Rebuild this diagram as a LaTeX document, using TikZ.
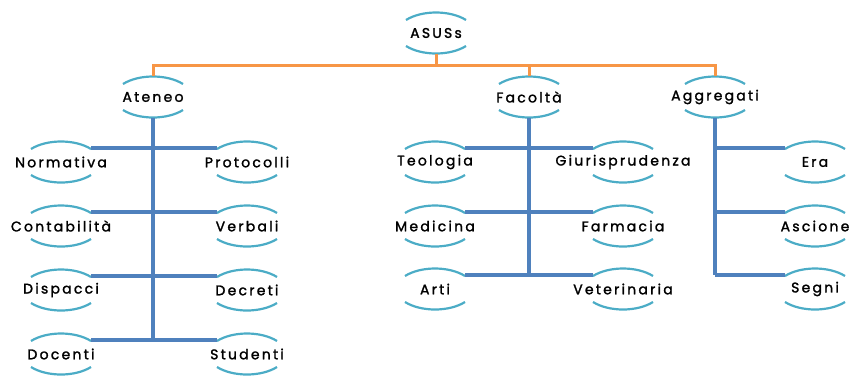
\documentclass[tikz,border=0pt]{standalone}
\usepackage{fontspec}
\setmainfont{Poppins}[FakeBold=1.6,LetterSpace=16]
\usetikzlibrary{calc}
\definecolor{arcc}{HTML}{4BACC6}
\definecolor{lineb}{HTML}{4F81BD}
\definecolor{lineo}{HTML}{F79646}
\tikzset{
  box/.style={minimum width=60pt, minimum height=28pt, inner sep=0pt, outer sep=0pt,
    font=\fontsize{14}{16}\selectfont},
  arcs/.style={draw=arcc, line width=2.2pt},
  bl/.style={draw=lineb, line width=3.6pt},
  ol/.style={draw=lineo, line width=3pt},
}
\newcommand{\tx}[1]{\makebox[0pt]{#1}}
\begin{document}
\begin{tikzpicture}[x=1pt,y=-1pt]
\useasboundingbox (0,0) rectangle (853,376);
\coordinate (bar) at (436,65);
% nodes
\node[box] (asuss) at (436,33) {\tx{ASUSs}};
\node[box] (ateneo) at (153,97) {\tx{Ateneo}};
\node[box] (facolta) at (529,97) {\tx{Facoltà}};
\node[box] (aggregati) at (715,97) {\tx{Aggregati}};
\node[box] (normativa) at (61,162) {\tx{Normativa}};
\node[box] (contabilita) at (61,226) {\tx{Contabilità}};
\node[box] (dispacci) at (61,290) {\tx{Dispacci}};
\node[box] (docenti) at (61,354) {\tx{Docenti}};
\node[box] (protocolli) at (247,162) {\tx{Protocolli}};
\node[box] (verbali) at (247,226) {\tx{Verbali}};
\node[box] (decreti) at (247,290) {\tx{Decreti}};
\node[box] (studenti) at (247,354) {\tx{Studenti}};
\node[box] (teologia) at (435,162) {\tx{Teologia}};
\node[box] (medicina) at (435,226) {\tx{Medicina}};
\node[box] (arti) at (435,289) {\tx{Arti}};
\node[box] (giuris) at (623,162) {\tx{Giurisprudenza}};
\node[box] (farmacia) at (623,226) {\tx{Farmacia}};
\node[box] (veterinaria) at (623,289) {\tx{Veterinaria}};
\node[box] (era) at (815,162) {\tx{Era}};
\node[box] (ascione) at (815,226) {\tx{Ascione}};
\node[box] (segni) at (815,289) {\tx{Segni}};
% arcs
\foreach \n in {asuss,ateneo,facolta,aggregati,normativa,contabilita,dispacci,docenti,
  protocolli,verbali,decreti,studenti,teologia,medicina,arti,giuris,farmacia,veterinaria,
  era,ascione,segni}{
  \draw[arcs] ([yshift=-1pt]\n.north west) .. controls ([xshift=16pt,yshift=9pt]\n.north west) and ([xshift=-16pt,yshift=9pt]\n.north east) .. ([yshift=-1pt]\n.north east);
  \draw[arcs] ([yshift=1pt]\n.south west) .. controls ([xshift=16pt,yshift=-9pt]\n.south west) and ([xshift=-16pt,yshift=-9pt]\n.south east) .. ([yshift=1pt]\n.south east);
}
% orange
\draw[ol] ([yshift=-7pt]asuss.south) -- (asuss.south |- bar);
\draw[ol] ([yshift=7pt]ateneo.north) -- (ateneo.north |- bar) -- (aggregati.north |- bar) -- ([yshift=7pt]aggregati.north);
\draw[ol] (facolta.north |- bar) -- ([yshift=7pt]facolta.north);
% blue: Ateneo
\draw[bl] ([yshift=-7pt]ateneo.south) -- (ateneo.south |- docenti.north east);
\draw[bl] (normativa.north east) -- (protocolli.north west);
\draw[bl] (contabilita.north east) -- (verbali.north west);
\draw[bl] (dispacci.north east) -- (decreti.north west);
\draw[bl] (docenti.north east) -- (studenti.north west);
% blue: Facolta
\draw[bl] ([yshift=-7pt]facolta.south) -- (facolta.south |- arti.north east);
\draw[bl] (teologia.north east) -- (giuris.north west);
\draw[bl] (medicina.north east) -- (farmacia.north west);
\draw[bl] (arti.north east) -- (veterinaria.north west);
% blue: Aggregati
\draw[bl] ([yshift=-7pt]aggregati.south) -- (aggregati.south |- segni.north west);
\draw[bl] (aggregati.south |- era.north west) -- (era.north west);
\draw[bl] (aggregati.south |- ascione.north west) -- (ascione.north west);
\draw[bl] (aggregati.south |- segni.north west) -- (segni.north west);
\end{tikzpicture}
\end{document}
